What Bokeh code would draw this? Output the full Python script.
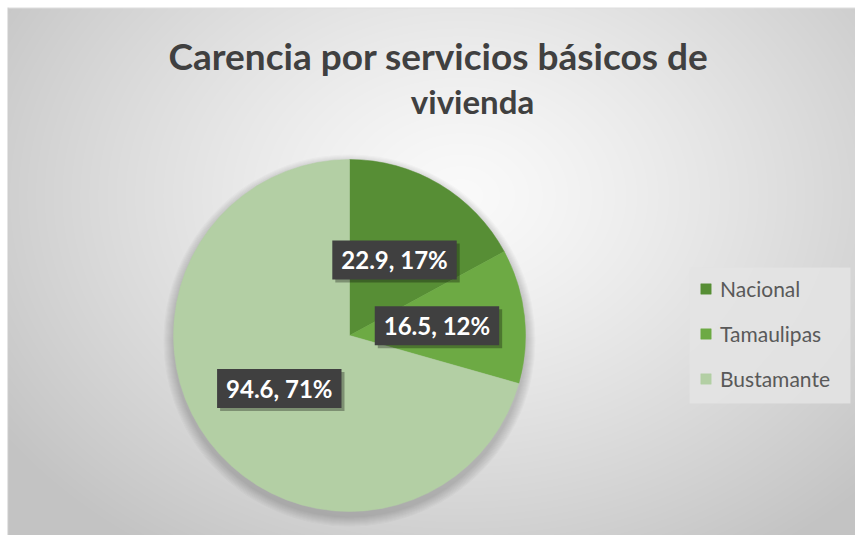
import numpy as np
from bokeh.plotting import figure
from bokeh.models import Range1d, Legend, LegendItem, ColumnDataSource
from bokeh.core.properties import value
from bokeh.embed import file_html
from bokeh.resources import INLINE

# ---- data ----
categories = ["Nacional", "Tamaulipas", "Bustamante"]
values = [22.9, 16.5, 94.6]
colors = ["#578E35", "#6DAA44", "#B3CFA4"]
title_lines = ["Carencia por servicios básicos de", "vivienda"]

W, H = 855, 535
FONT = "Lato"

p = figure(width=W, height=H, output_backend="svg", toolbar_location=None,
           x_range=Range1d(0, W), y_range=Range1d(0, H),
           x_axis_location=None, y_axis_location=None, min_border=0,
           outline_line_color=None)
p.grid.visible = False
p.background_fill_color = "white"
p.border_fill_color = "white"

# ---- background radial gradient (style only) ----
X0, Y0 = 7, 7  # chart area starts here (page px)
gw, gh = W - X0, H - Y0
yy, xx = np.mgrid[0:gh, 0:gw]
px, py = xx + X0, yy + Y0
cx, cy = 460, 195
t = np.sqrt(((px - cx) / 560.0) ** 2 + ((py - cy) / 430.0) ** 2)
t = np.clip(t, 0, 1) ** 1.25
c0, c1 = 250, 195
g = (c0 + (c1 - c0) * t).astype(np.uint32)
g[0, :] = 222
g[:, 0] = 205
img = ((255 << 24) | (g << 16) | (g << 8) | g)[::-1]
p.image_rgba(image=[np.ascontiguousarray(img).view(np.uint32)], x=X0, y=0, dw=gw, dh=gh)

# ---- pie ----
pcx, pcy, R = 349, H - 335, 176
total = sum(values)
fr = np.array(values) / total
cum = np.concatenate([[0], np.cumsum(fr)])
start = np.pi / 2 - cum[:-1] * 2 * np.pi
end = np.pi / 2 - cum[1:] * 2 * np.pi
mid = (start + end) / 2

# soft shadow
for k in range(10):
    p.circle(x=[pcx], y=[pcy - 5], radius=R + 10 - k, fill_color="#201830",
             fill_alpha=0.024, line_color=None)

src = ColumnDataSource(dict(start=start, end=end, color=colors, cat=categories))
wr = p.wedge(x=pcx, y=pcy, radius=R, start_angle="start", end_angle="end",
             direction="clock", fill_color="color", line_color="color",
             line_width=0.5, source=src)

# ---- data labels ----
labels = [f"{v}, {round(f * 100)}%" for v, f in zip(values, fr)]
lsrc = ColumnDataSource(dict(x=pcx + 0.5 * R * np.cos(mid),
                             y=pcy + 0.5 * R * np.sin(mid), text=labels))
pad = dict(left=9, right=9, top=5, bottom=5)
p.text(x="x", y="y", text="text", source=lsrc, x_offset=3, y_offset=3,
       text_font=value(FONT), text_font_style="bold", text_font_size="24px",
       text_align="center", text_baseline="middle", text_alpha=0,
       background_fill_color="black", background_fill_alpha=0.3, padding=pad)
p.text(x="x", y="y", text="text", source=lsrc,
       text_font=value(FONT), text_font_style="bold", text_font_size="24px",
       text_align="center", text_baseline="middle", text_color="white",
       background_fill_color="#404040", padding=pad)

# ---- title ----
p.text(x=[438], y=[H - 55], text=[title_lines[0]],
       text_font=value(FONT), text_font_style="bold", text_font_size="37px",
       text_align="center", text_baseline="middle", text_color="#404040")
p.text(x=[472], y=[H - 100], text=[title_lines[1]],
       text_font=value(FONT), text_font_style="bold", text_font_size="33px",
       text_align="center", text_baseline="middle", text_color="#404040")

# ---- legend ----
p.rect(x=[769.5], y=[H - 335], width=161, height=136, fill_color="#e4e4e4",
       fill_alpha=0.85, line_color=None)
items = [LegendItem(label=c, renderers=[wr], index=i) for i, c in enumerate(categories)]
legend = Legend(items=items, location=(699, 144), margin=0, padding=13,
                spacing=20, glyph_width=13, glyph_height=13, label_height=20,
                label_standoff=8, label_text_font=FONT, label_text_font_size="21px",
                label_text_color="#595959", background_fill_alpha=0,
                border_line_color=None)
p.add_layout(legend)

open("out.html", "w").write(file_html(p, INLINE))
